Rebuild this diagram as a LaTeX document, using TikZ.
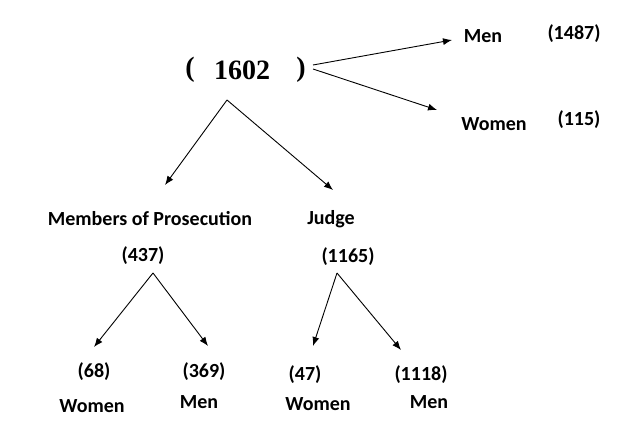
\documentclass[tikz,border=0pt]{standalone}
\usepackage{fontspec}
\setmainfont{Liberation Serif}
\newfontfamily\lbl{Carlito}
\usetikzlibrary{arrows.meta}
\begin{document}
\begin{tikzpicture}[x=1pt,y=-1pt,
  lab/.style={font=\lbl\bfseries\fontsize{20}{24}\selectfont,inner sep=0pt},
  big/.style={font=\bfseries\fontsize{28}{32}\selectfont,inner sep=0pt},
  arr/.style={-{Latex[length=9pt,width=7pt]},line width=0.9pt}]
\useasboundingbox[fill=white] (0,0) rectangle (642,435);
\node[big] (lp) at (190,70) {(};
\node[big] (tot) at (242,70) {1602};
\node[big] (rp) at (301,70) {)};
\node[lab] (men) at (483,36) {Men};
\node[lab] (menn) at (574,34) {(1487)};
\node[lab] (wom) at (494,124) {Women};
\node[lab] (womn) at (579,120) {(115)};
\node[lab] (mp) at (150,219) {Members of Prosecution};
\node[lab] (jd) at (331,219) {Judge};
\node[lab] (mpn) at (143,256) {(437)};
\node[lab] (jdn) at (348,257) {(1165)};
\node[lab] (a1) at (94,372) {(68)};
\node[lab] (a2) at (92,406) {Women};
\node[lab] (b1) at (204,372) {(369)};
\node[lab] (b2) at (199,402) {Men};
\node[lab] (c1) at (305,375) {(47)};
\node[lab] (c2) at (318,404) {Women};
\node[lab] (d1) at (421,375) {(1118)};
\node[lab] (d2) at (429,402) {Men};
\coordinate (s1) at (313,65); \coordinate (e1) at (452,40);
\coordinate (s2) at (313,69); \coordinate (e2) at (437,110);
\coordinate (s3) at (227,100); \coordinate (e3) at (165,185); \coordinate (e4) at (333,190);
\coordinate (s5) at (153,273); \coordinate (e5) at (94,347); \coordinate (e6) at (208,346);
\coordinate (s7) at (337,273); \coordinate (e7) at (313,346); \coordinate (e8) at (401,350);
\draw[arr] (s1) -- (e1);
\draw[arr] (s2) -- (e2);
\draw[arr] (s3) -- (e3);
\draw[arr] (s3) -- (e4);
\draw[arr] (s5) -- (e5);
\draw[arr] (s5) -- (e6);
\draw[arr] (s7) -- (e7);
\draw[arr] (s7) -- (e8);
\end{tikzpicture}
\end{document}
